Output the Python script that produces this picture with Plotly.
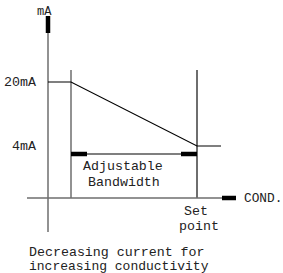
import plotly.graph_objects as go

# ---- data (schematic values) ----
current_levels = [20, 4]            # mA levels
current_labels = ["20mA", "4mA"]
band_start = 23                     # conductivity where regulation starts
set_point = 149                     # conductivity set point
curve_cond = [0, band_start, set_point, 173]
curve_mA = [20, 20, 4, 4]
axis_x_range = [-21, 174]           # conductivity axis extent
axis_y_range = [-17.5, 36.5]        # mA axis extent (schematic)
axis_origin_mA = -9                 # where the conductivity axis crosses
band_mA = 2                         # level of "Adjustable Bandwidth" bar
vline_top = 23                      # top of the vertical guide lines (mA)
title_lines = ["Decreasing current for", "increasing conductivity"]

FONT = dict(family="Liberation Mono, Courier New, monospace", size=13.3, color="#222")
GRAY = "#6e6e6e"

fig = go.Figure()

def seg(xs, ys, color, width):
    fig.add_trace(go.Scatter(x=xs, y=ys, mode="lines",
                             line=dict(color=color, width=width),
                             hoverinfo="skip", showlegend=False))

# axes
seg([0, 0], axis_y_range, GRAY, 1.5)
seg([0, 0], [axis_y_range[1] - 4.25, axis_y_range[1]], "#000", 4.5)
seg(axis_x_range, [axis_origin_mA, axis_origin_mA], GRAY, 1.5)
seg([axis_x_range[1], axis_x_range[1] + 14], [axis_origin_mA, axis_origin_mA], "#000", 4.5)

# vertical guides
seg([band_start, band_start], [axis_origin_mA, vline_top], GRAY, 1.5)
seg([set_point, set_point], [axis_origin_mA, vline_top], GRAY, 2)

# response curve
seg(curve_cond, curve_mA, "#000", 1.2)

# bandwidth bar
seg([band_start, set_point], [band_mA, band_mA], "#000", 1.2)
seg([band_start, band_start + 16], [band_mA, band_mA], "#000", 4.5)
seg([set_point - 16, set_point], [band_mA, band_mA], "#000", 4.5)

# texts
def txt(x, y, s, xanchor="center", size=None):
    f = dict(FONT)
    if size:
        f["size"] = size
    fig.add_annotation(x=x, y=y, text=s, showarrow=False, xanchor=xanchor,
                       yanchor="middle", font=f)

txt(-4, axis_y_range[1] + 1.0, "mA", size=12)
for lvl, lab in zip(current_levels, current_labels):
    txt(-10, lvl - 0.2, lab, "right")
txt(75, -1.2, "Adjustable")
txt(76, -5, "Bandwidth")
txt(194, axis_origin_mA, "COND.", "left", size=12.8)
txt(148, axis_origin_mA - 3.3, "Set", "center")
txt(150.5, axis_origin_mA - 7.1, "point", "center")
txt(-21, axis_origin_mA - 13.7, title_lines[0], "left")
txt(-21, axis_origin_mA - 17.1, title_lines[1], "left", size=13)

fig.update_layout(
    width=283, height=273,
    margin=dict(l=0, r=0, t=0, b=0),
    paper_bgcolor="white", plot_bgcolor="white",
    xaxis=dict(range=[-48, 235], visible=False, fixedrange=True),
    yaxis=dict(range=[-27.75, 40.5], visible=False, fixedrange=True),
    showlegend=False,
)

# remove the page's default 8px body margin so the figure fills the window
fig.write_html("out.html", config={"displayModeBar": False},
               post_script="document.body.style.margin='0';")
